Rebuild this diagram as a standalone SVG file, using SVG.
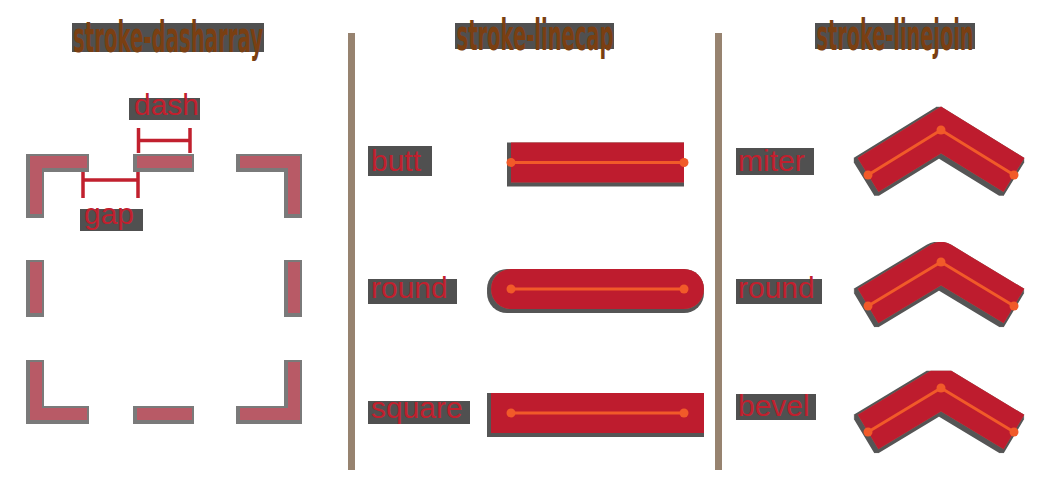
<svg xmlns="http://www.w3.org/2000/svg" width="1057" height="503" viewBox="0 0 1057 503">
  <defs>
    <style>
      .title { font-family: "DejaVu Sans", "Liberation Sans", sans-serif; font-weight: bold; font-stretch: condensed; font-size: 42px; fill: #7a3f12; text-anchor: middle; }
      .lbl { font-family: "Liberation Sans", Arial, sans-serif; font-size: 30px; fill: #c1202e; }
      .tbg { fill: #505050; }
      .sep { stroke: #978370; stroke-width: 7; }
      .dash { fill: none; stroke: #b85a66; stroke-width: 12; stroke-linejoin: miter; stroke-linecap: butt; }
      .dim { fill: none; stroke: #c1202e; stroke-width: 3.5; }
      .thick { fill: none; stroke: #be1e2d; stroke-width: 40; }
      .thin { fill: none; stroke: #f15a29; stroke-width: 3; stroke-linejoin: round; }
      .dot { fill: #f15a29; }
    </style>
    <filter id="halo" filterUnits="userSpaceOnUse" x="0" y="0" width="1057" height="503">
      <feMorphology in="SourceAlpha" operator="dilate" radius="3" result="d"/>
      <feOffset in="d" dx="-1" dy="1" result="o"/>
      <feFlood flood-color="#7a7a7a"/>
      <feComposite in2="o" operator="in" result="g"/>
      <feMerge><feMergeNode in="g"/><feMergeNode in="SourceGraphic"/></feMerge>
    </filter>
    <filter id="halo2" filterUnits="userSpaceOnUse" x="0" y="0" width="1057" height="503">
      <feMorphology in="SourceAlpha" operator="dilate" radius="2" result="d"/>
      <feOffset in="d" dx="-2" dy="2" result="o"/>
      <feFlood flood-color="#555555"/>
      <feComposite in2="o" operator="in" result="g"/>
      <feMerge><feMergeNode in="g"/><feMergeNode in="SourceGraphic"/></feMerge>
    </filter>
  </defs>
  <rect width="1057" height="503" fill="#ffffff"/>

  <!-- separators -->
  <g id="separators">
    <line class="sep" x1="351.5" y1="33" x2="351.5" y2="470"/>
    <line class="sep" x1="718.5" y1="33" x2="718.5" y2="470"/>
  </g>

  <!-- titles -->
  <g id="title-dasharray">
    <rect class="tbg" x="72" y="23" width="192" height="29"/>
    <text class="title" transform="translate(168,52) scale(0.5,1)" x="0" y="0" textLength="380" lengthAdjust="spacingAndGlyphs">stroke-dasharray</text>
  </g>
  <g id="title-linecap">
    <rect class="tbg" x="455" y="23" width="159" height="26"/>
    <text class="title" transform="translate(535,50) scale(0.5,1)" x="0" y="0" textLength="314" lengthAdjust="spacingAndGlyphs">stroke-linecap</text>
  </g>
  <g id="title-linejoin">
    <rect class="tbg" x="815" y="23" width="160" height="26"/>
    <text class="title" transform="translate(895,50) scale(0.5,1)" x="0" y="0" textLength="314" lengthAdjust="spacingAndGlyphs">stroke-linejoin</text>
  </g>

  <!-- dasharray panel -->
  <g id="dashed-square" filter="url(#halo)">
    <path class="dash" d="M36,214 V162 H87"/>
    <path class="dash" d="M137,162 H192"/>
    <path class="dash" d="M240,162 H294 V214"/>
    <path class="dash" d="M36,262 V313"/>
    <path class="dash" d="M294,262 V313"/>
    <path class="dash" d="M36,362 V414 H87"/>
    <path class="dash" d="M137,414 H192"/>
    <path class="dash" d="M240,414 H294 V362"/>
  </g>
  <g id="dash-annotation">
    <rect class="tbg" x="129" y="98" width="71" height="22"/>
    <text class="lbl" x="134" y="115">dash</text>
    <path class="dim" d="M138.5,128 V153 M190,128 V153 M138.5,140.5 H190"/>
  </g>
  <g id="gap-annotation">
    <rect class="tbg" x="80" y="209" width="63" height="22"/>
    <text class="lbl" x="84" y="224">gap</text>
    <path class="dim" d="M83,172 V198 M138,172 V198 M83,180 H138"/>
  </g>

  <!-- linecap panel -->
  <g id="cap-butt">
    <rect class="tbg" x="368" y="146" width="64" height="30"/>
    <text class="lbl" x="371" y="171">butt</text>
    <g filter="url(#halo2)">
      <line class="thick" x1="511" y1="162.5" x2="684" y2="162.5" stroke-linecap="butt"/>
    </g>
    <line class="thin" x1="511" y1="162.5" x2="684" y2="162.5"/>
    <circle class="dot" cx="511" cy="162.5" r="4.5"/>
    <circle class="dot" cx="684" cy="162.5" r="4.5"/>
  </g>
  <g id="cap-round">
    <rect class="tbg" x="368" y="279" width="89" height="25"/>
    <text class="lbl" x="371" y="298">round</text>
    <g filter="url(#halo2)">
      <line class="thick" x1="511" y1="289" x2="684" y2="289" stroke-linecap="round"/>
    </g>
    <line class="thin" x1="511" y1="289" x2="684" y2="289"/>
    <circle class="dot" cx="511" cy="289" r="4.5"/>
    <circle class="dot" cx="684" cy="289" r="4.5"/>
  </g>
  <g id="cap-square">
    <rect class="tbg" x="368" y="401" width="102" height="23"/>
    <text class="lbl" x="371" y="418">square</text>
    <g filter="url(#halo2)">
      <line class="thick" x1="511" y1="413" x2="684" y2="413" stroke-linecap="square"/>
    </g>
    <line class="thin" x1="511" y1="413" x2="684" y2="413"/>
    <circle class="dot" cx="511" cy="413" r="4.5"/>
    <circle class="dot" cx="684" cy="413" r="4.5"/>
  </g>

  <!-- linejoin panel -->
  <g id="join-miter">
    <rect class="tbg" x="736" y="148" width="78" height="27"/>
    <text class="lbl" x="738" y="171">miter</text>
    <g filter="url(#halo2)">
      <polyline class="thick" points="868,175 941,130 1014,175" stroke-linejoin="miter" stroke-linecap="butt"/>
    </g>
    <polyline class="thin" points="868,175 941,130 1014,175"/>
    <circle class="dot" cx="868" cy="175" r="4.5"/>
    <circle class="dot" cx="941" cy="130" r="4.5"/>
    <circle class="dot" cx="1014" cy="175" r="4.5"/>
  </g>
  <g id="join-round">
    <rect class="tbg" x="736" y="279" width="86" height="25"/>
    <text class="lbl" x="738" y="298">round</text>
    <g filter="url(#halo2)">
      <polyline class="thick" points="868,306 941,262 1014,306" stroke-linejoin="round" stroke-linecap="butt"/>
    </g>
    <polyline class="thin" points="868,306 941,262 1014,306"/>
    <circle class="dot" cx="868" cy="306" r="4.5"/>
    <circle class="dot" cx="941" cy="262" r="4.5"/>
    <circle class="dot" cx="1014" cy="306" r="4.5"/>
  </g>
  <g id="join-bevel">
    <rect class="tbg" x="736" y="394" width="80" height="26"/>
    <text class="lbl" x="738" y="416">bevel</text>
    <g filter="url(#halo2)">
      <polyline class="thick" points="868,432 941,388 1014,432" stroke-linejoin="bevel" stroke-linecap="butt"/>
    </g>
    <polyline class="thin" points="868,432 941,388 1014,432"/>
    <circle class="dot" cx="868" cy="432" r="4.5"/>
    <circle class="dot" cx="941" cy="388" r="4.5"/>
    <circle class="dot" cx="1014" cy="432" r="4.5"/>
  </g>
</svg>
